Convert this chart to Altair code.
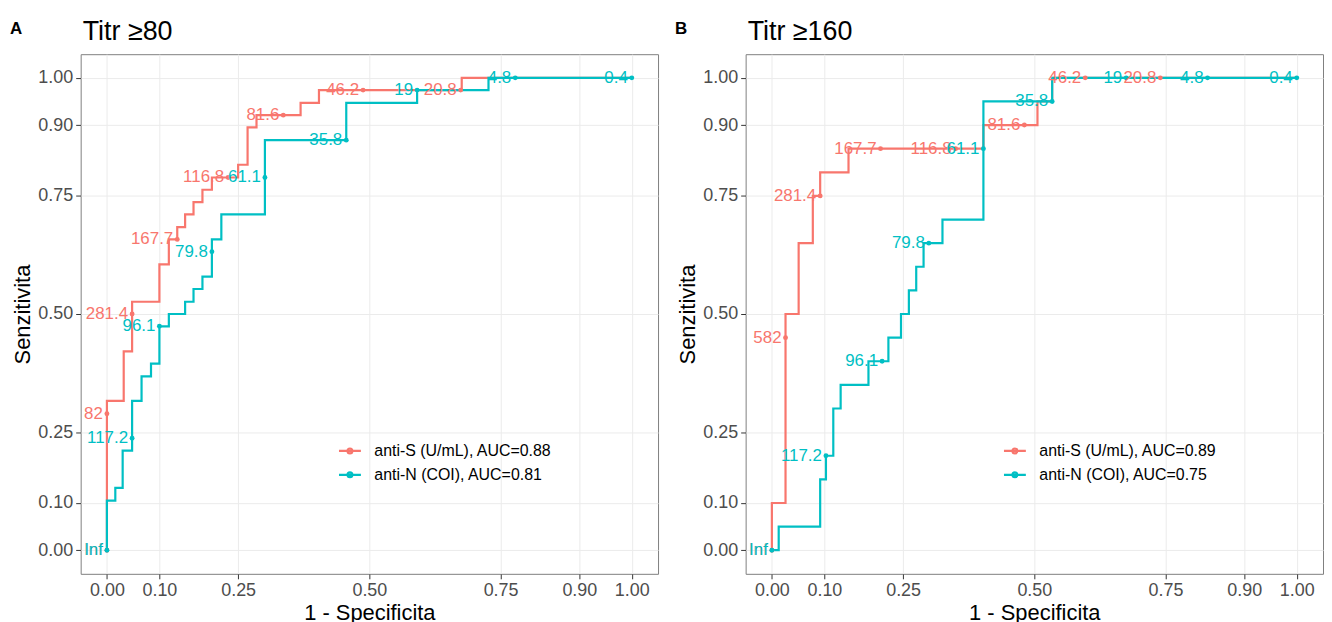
import altair as alt
import pandas as pd

FONT = "Liberation Sans"
RED = "#F8766D"
TEAL = "#00BFC4"
TICKS = [0, 0.1, 0.25, 0.5, 0.75, 0.9, 1.0]

# ---------------- Panel A: Titr >= 80 ----------------
A_TITLE = "Titr ≥80"
A_LEG_S = "anti-S (U/mL), AUC=0.88"
A_LEG_N = "anti-N (COI), AUC=0.81"

A_S_FPR = [0, 0, 0.032, 0.032, 0.048, 0.048, 0.1, 0.1, 0.118, 0.118, 0.134, 0.134,
           0.149, 0.149, 0.165, 0.165, 0.182, 0.182, 0.2, 0.2, 0.25, 0.25, 0.268, 0.268,
           0.285, 0.285, 0.369, 0.369, 0.404, 0.404, 0.676, 0.676, 1.0]
A_S_TPR = [0, 0.316, 0.316, 0.421, 0.421, 0.526, 0.526, 0.605, 0.605, 0.658, 0.658, 0.684,
           0.684, 0.711, 0.711, 0.737, 0.737, 0.763, 0.763, 0.789, 0.789, 0.816, 0.816, 0.895,
           0.895, 0.921, 0.921, 0.947, 0.947, 0.974, 0.974, 1.0, 1.0]

A_N_FPR = [0, 0, 0.016, 0.016, 0.030, 0.030, 0.048, 0.048, 0.066, 0.066, 0.084, 0.084,
           0.1, 0.1, 0.118, 0.118, 0.149, 0.149, 0.165, 0.165, 0.182, 0.182, 0.2, 0.2,
           0.218, 0.218, 0.301, 0.301, 0.456, 0.456, 0.591, 0.591, 0.727, 0.727, 1.0]
A_N_TPR = [0, 0.105, 0.105, 0.132, 0.132, 0.211, 0.211, 0.316, 0.316, 0.368, 0.368, 0.395,
           0.395, 0.474, 0.474, 0.5, 0.5, 0.526, 0.526, 0.553, 0.553, 0.579, 0.579, 0.658,
           0.658, 0.711, 0.711, 0.868, 0.868, 0.947, 0.947, 0.974, 0.974, 1.0, 1.0]

A_S_CUT_LAB = ["Inf", "82", "281.4", "167.7", "116.8", "81.6", "46.2", "20.8"]
A_S_CUT_FPR = [0, 0, 0.048, 0.134, 0.231, 0.336, 0.488, 0.674]
A_S_CUT_TPR = [0, 0.289, 0.5, 0.658, 0.789, 0.921, 0.974, 0.974]

A_N_CUT_LAB = ["Inf", "117.2", "96.1", "79.8", "61.1", "35.8", "19", "4.8", "0.4"]
A_N_CUT_FPR = [0, 0.048, 0.1, 0.2, 0.301, 0.456, 0.591, 0.778, 1.0]
A_N_CUT_TPR = [0, 0.237, 0.474, 0.632, 0.789, 0.868, 0.974, 1.0, 1.0]

# ---------------- Panel B: Titr >= 160 ----------------
B_TITLE = "Titr ≥160"
B_LEG_S = "anti-S (U/mL), AUC=0.89"
B_LEG_N = "anti-N (COI), AUC=0.75"

B_S_FPR = [0, 0, 0.026, 0.026, 0.051, 0.051, 0.078, 0.078, 0.092, 0.092, 0.146, 0.146,
           0.403, 0.403, 0.506, 0.506, 0.534, 0.534, 1.0]
B_S_TPR = [0, 0.1, 0.1, 0.5, 0.5, 0.65, 0.65, 0.75, 0.75, 0.8, 0.8, 0.85,
           0.85, 0.9, 0.9, 0.95, 0.95, 1.0, 1.0]

B_N_FPR = [0, 0.013, 0.013, 0.092, 0.092, 0.103, 0.103, 0.117, 0.117, 0.131, 0.131, 0.184,
           0.184, 0.222, 0.222, 0.246, 0.246, 0.261, 0.261, 0.275, 0.275, 0.289, 0.289,
           0.325, 0.325, 0.403, 0.403, 0.534, 0.534, 1.0]
B_N_TPR = [0, 0, 0.05, 0.05, 0.15, 0.15, 0.2, 0.2, 0.3, 0.3, 0.35, 0.35,
           0.4, 0.4, 0.45, 0.45, 0.5, 0.5, 0.55, 0.55, 0.6, 0.6, 0.65,
           0.65, 0.7, 0.7, 0.95, 0.95, 1.0, 1.0]

B_S_CUT_LAB = ["Inf", "582", "281.4", "167.7", "116.8", "81.6", "46.2", "20.8"]
B_S_CUT_FPR = [0, 0.026, 0.092, 0.207, 0.35, 0.481, 0.597, 0.74]
B_S_CUT_TPR = [0, 0.45, 0.75, 0.85, 0.85, 0.9, 1.0, 1.0]

B_N_CUT_LAB = ["Inf", "117.2", "96.1", "79.8", "61.1", "35.8", "19", "4.8", "0.4"]
B_N_CUT_FPR = [0, 0.103, 0.21, 0.299, 0.403, 0.534, 0.675, 0.83, 1.0]
B_N_CUT_TPR = [0, 0.2, 0.4, 0.65, 0.85, 0.95, 1.0, 1.0, 1.0]

LEG_SYMBOL = "M-1,0H1M0.22,0A0.22,0.22,0,1,1,-0.22,0A0.22,0.22,0,1,1,0.22,0Z"


def panel(title, letter, s_fpr, s_tpr, n_fpr, n_tpr,
          s_lab, s_cf, s_ct, n_lab, n_cf, n_ct, leg_s, leg_n):
    df_s = pd.DataFrame({"fpr": s_fpr, "tpr": s_tpr, "i": list(range(len(s_fpr))), "series": leg_s})
    df_n = pd.DataFrame({"fpr": n_fpr, "tpr": n_tpr, "i": list(range(len(n_fpr))), "series": leg_n})
    cut_s = pd.DataFrame({"fpr": s_cf, "tpr": s_ct, "lab": s_lab})
    cut_n = pd.DataFrame({"fpr": n_cf, "tpr": n_ct, "lab": n_lab})

    x = alt.X("fpr:Q", scale=alt.Scale(domain=[-0.05, 1.05], nice=False, zero=False),
              axis=alt.Axis(values=TICKS, format=".2f", title="1 - Specificita"))
    y = alt.Y("tpr:Q", scale=alt.Scale(domain=[-0.05, 1.05], nice=False, zero=False),
              axis=alt.Axis(values=TICKS, format=".2f", title="Senzitivita"))
    color = alt.Color(
        "series:N",
        scale=alt.Scale(domain=[leg_s, leg_n], range=[RED, TEAL]),
        legend=alt.Legend(title=None, orient="none", legendX=258, legendY=386,
                          symbolType=LEG_SYMBOL, symbolSize=484, symbolStrokeWidth=2.2,
                          labelFontSize=16, labelFont=FONT, labelColor="black",
                          labelLimit=400, rowPadding=3, labelOffset=12, padding=0),
    )

    line_s = alt.Chart(df_s).mark_line(strokeWidth=2.2).encode(x=x, y=y, order="i:Q", color=color)
    line_n = alt.Chart(df_n).mark_line(strokeWidth=2.2).encode(x=x, y=y, order="i:Q", color=color)
    pts_s = alt.Chart(cut_s).mark_circle(size=24, opacity=1, color=RED).encode(x=x, y=y)
    pts_n = alt.Chart(cut_n).mark_circle(size=24, opacity=1, color=TEAL).encode(x=x, y=y)
    lab_s = alt.Chart(cut_s).mark_text(align="right", baseline="middle", dx=-4, fontSize=17,
                                       font=FONT, color=RED).encode(x=x, y=y, text="lab:N")
    lab_n = alt.Chart(cut_n).mark_text(align="right", baseline="middle", dx=-4, fontSize=17,
                                       font=FONT, color=TEAL).encode(x=x, y=y, text="lab:N")
    head = pd.DataFrame({"t": [letter], "title": [title]})
    let = alt.Chart(head).mark_text(
        align="left", baseline="alphabetic", fontSize=17, fontWeight="bold", font=FONT, color="black"
    ).encode(x=alt.value(-71), y=alt.value(-20), text="t:N")
    ttl = alt.Chart(head).mark_text(
        align="left", baseline="alphabetic", fontSize=27, font=FONT, color="black"
    ).encode(x=alt.value(2), y=alt.value(-14), text="title:N")

    return alt.layer(line_s, line_n, pts_s, pts_n, lab_s, lab_n, let, ttl).properties(
        width=580, height=522,
    )


pA = panel(A_TITLE, "A", A_S_FPR, A_S_TPR, A_N_FPR, A_N_TPR,
           A_S_CUT_LAB, A_S_CUT_FPR, A_S_CUT_TPR, A_N_CUT_LAB, A_N_CUT_FPR, A_N_CUT_TPR,
           A_LEG_S, A_LEG_N)
pB = panel(B_TITLE, "B", B_S_FPR, B_S_TPR, B_N_FPR, B_N_TPR,
           B_S_CUT_LAB, B_S_CUT_FPR, B_S_CUT_TPR, B_N_CUT_LAB, B_N_CUT_FPR, B_N_CUT_TPR,
           B_LEG_S, B_LEG_N)

chart = alt.hconcat(pA, pB, spacing=15).resolve_scale(color="independent").properties(
    padding={"left": 1, "top": 8, "right": 0, "bottom": 0}
).configure_view(
    stroke="#7f7f7f", strokeWidth=1
).configure_axis(
    labelFont=FONT, labelFontSize=18, labelColor="#4d4d4d",
    titleFont=FONT, titleFontSize=22, titleFontWeight="normal", titleColor="black",
    tickColor="#333333", tickSize=5, domain=False, gridColor="#ebebeb", gridWidth=1,
    labelPadding=3, titlePadding=3, labelFlush=False, labelOverlap=False,
)

chart.save("out.html", embed_options={"renderer": "svg", "actions": False})
